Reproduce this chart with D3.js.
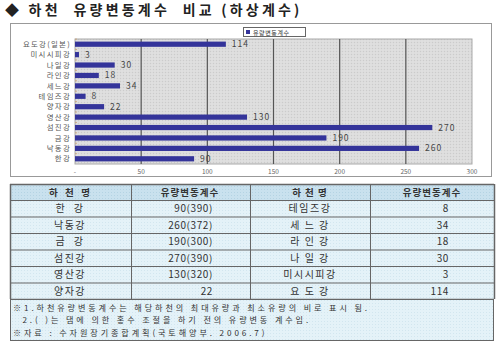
<!DOCTYPE html>
<html><head><meta charset="utf-8">
<script src="https://cdn.jsdelivr.net/npm/d3@7"></script>
<style>
html,body{margin:0;padding:0;background:#fff;}
svg{display:block;font-family:"Noto Sans CJK KR","Noto Sans",sans-serif;}
</style></head>
<body>
<svg id="c" width="500" height="343"></svg>
<script>
const titleText = "◆ 하천  유량변동계수  비교 (하상계수)";
const categories = ["요도강(일본)","미시시피강","나일강","라인강","세느강","테임즈강","양자강","영산강","섬진강","금강","낙동강","한강"];
const values = [114,3,30,18,34,8,22,130,270,190,260,90];
const xTicks = [0,50,100,150,200,250,300];
const xTickLabels = ["-","50","100","150","200","250","300"];
const legendLabel = "유량변동계수";

const tableHeaders = ["하  천  명","유량변동계수","하 천 명","유량변동계수"];
const namesLeft = ["한  강","낙동강","금  강","섬진강","영산강","양자강"];
const valuesLeft = ["90(390)","260(372)","190(300)","270(390)","130(320)","22"];
const namesRight = ["테임즈강","세 느 강","라 인 강","나 일 강","미시시피강","요 도 강"];
const valuesRight = ["8","34","18","30","3","114"];
const notes = ["※1.하천유량변동계수는 해당하천의 최대유량과 최소유량의 비로 표시 됨.",
               "  2.( )는 댐에 의한 홍수 조절을 하기 전의 유량변동 계수임.",
               "※자료 : 수자원장기종합계획(국토해양부. 2006.7)"];

const svg = d3.select("#c");
const defs = svg.append("defs");
const pat = defs.append("pattern").attr("id","hatch").attr("width",3).attr("height",3).attr("patternUnits","userSpaceOnUse");
pat.append("rect").attr("width",3).attr("height",3).attr("fill","#dcdcdc");
pat.append("rect").attr("x",0).attr("y",0).attr("width",1).attr("height",1).attr("fill","#cbcbcb");
pat.append("rect").attr("x",1.5).attr("y",1.5).attr("width",1).attr("height",1).attr("fill","#e8e8e8");
const pat2 = defs.append("pattern").attr("id","dots").attr("width",3).attr("height",3).attr("patternUnits","userSpaceOnUse");
pat2.append("rect").attr("width",3).attr("height",3).attr("fill","#e4f2f8");
pat2.append("rect").attr("width",1).attr("height",1).attr("fill","#d2e6ef");
const pat3 = defs.append("pattern").attr("id","hdots").attr("width",3).attr("height",3).attr("patternUnits","userSpaceOnUse");
pat3.append("rect").attr("width",3).attr("height",3).attr("fill","#c9e1ee");
pat3.append("rect").attr("width",1).attr("height",1).attr("fill","#b4d3e3");

// Title
svg.append("text").attr("x",5).attr("y",15).attr("font-size",14).attr("font-weight","bold").attr("fill","#222")
  .attr("letter-spacing",3.2).attr("xml:space","preserve").text(titleText);

// Chart box
svg.append("rect").attr("x",10.5).attr("y",23.5).attr("width",481).attr("height",153).attr("fill","#fff").attr("stroke","#999");

const x = d3.scaleLinear().domain([0,300]).range([75,472]);
const y = d3.scaleBand().domain(categories).range([39,164]).paddingInner(0.5).paddingOuter(0.25);

svg.append("rect").attr("x",x(0)).attr("y",39).attr("width",x(300)-x(0)).attr("height",125).attr("fill","url(#hatch)").attr("stroke","#aaa");

svg.append("g").selectAll("line").data(xTicks.slice(1,-1)).join("line")
  .attr("x1",d=>x(d)).attr("x2",d=>x(d)).attr("y1",39).attr("y2",164)
  .attr("stroke","#555").attr("stroke-width",1.2);

svg.append("g").selectAll("text").data(xTicks).join("text")
  .attr("x",d=>x(d)).attr("y",174).attr("text-anchor","middle").attr("font-size",6.5).attr("fill","#666")
  .text((d,i)=>xTickLabels[i]);

svg.append("g").selectAll("line").data(categories).join("line")
  .attr("x1",x(0)).attr("x2",x(0)+2).attr("y1",d=>y(d)-2.5).attr("y2",d=>y(d)-2.5)
  .attr("stroke","#c9a070").attr("stroke-width",0.8);

svg.append("g").selectAll("rect").data(values).join("rect")
  .attr("x",x(0)).attr("y",(d,i)=>y(categories[i])).attr("width",d=>x(d)-x(0)).attr("height",y.bandwidth())
  .attr("fill","#34349a");

svg.append("g").selectAll("text").data(values).join("text")
  .attr("x",d=>x(d)+6).attr("y",(d,i)=>y(categories[i])+y.bandwidth()/2+3)
  .attr("font-size",8.5).attr("fill","#444").attr("letter-spacing",1).text(d=>d);

svg.append("g").selectAll("text").data(categories).join("text")
  .attr("x",71).attr("y",d=>y(d)+y.bandwidth()/2+2.7).attr("text-anchor","end")
  .attr("font-size",7.4).attr("letter-spacing",1.3).attr("fill","#555").text(d=>d);

const lg = svg.append("g");
lg.append("rect").attr("x",243.5).attr("y",27.5).attr("width",62).attr("height",9).attr("fill","#fff").attr("stroke","#666");
lg.append("rect").attr("x",246).attr("y",30).attr("width",4).attr("height",4).attr("fill","#34349a");
lg.append("text").attr("x",253).attr("y",35).attr("font-size",6).attr("letter-spacing",0.6).attr("fill","#333").text(legendLabel);

// Table
const colX = [10,131,250,370,494];
const tTop = 184, hH = 16, rH = 16.5;
const nRows = namesLeft.length;
const tBottom = tTop + hH + rH*nRows;
svg.append("rect").attr("x",colX[0]).attr("y",tTop).attr("width",colX[4]-colX[0]).attr("height",hH).attr("fill","url(#hdots)");
svg.append("rect").attr("x",colX[0]).attr("y",tTop+hH).attr("width",colX[4]-colX[0]).attr("height",rH*nRows).attr("fill","url(#dots)");
const hl = [tTop, tTop+hH];
for (let i=1;i<=nRows;i++) hl.push(tTop+hH+rH*i);
svg.append("g").selectAll("line").data(hl).join("line")
  .attr("x1",colX[0]).attr("x2",colX[4]).attr("y1",d=>d+0.5).attr("y2",d=>d+0.5)
  .attr("stroke","#666").attr("stroke-width",(d,i)=> (i===0||i===hl.length-1)?1.5:1);
svg.append("g").selectAll("line").data(colX).join("line")
  .attr("x1",d=>d+0.5).attr("x2",d=>d+0.5).attr("y1",tTop).attr("y2",tBottom)
  .attr("stroke","#666").attr("stroke-width",(d,i)=>(i===0||i===4)?1.5:1);

const hCenters = [70,190,310,432];
svg.append("g").selectAll("text").data(tableHeaders).join("text")
  .attr("x",(d,i)=>hCenters[i]).attr("y",tTop+12).attr("text-anchor","middle")
  .attr("font-size",9.5).attr("font-weight","bold").attr("letter-spacing",1).attr("fill","#333").attr("xml:space","preserve").text(d=>d);

const rowY = i => tTop+hH+rH*i+12.2;
const tg = svg.append("g").attr("font-size",10).attr("fill","#333");
tg.selectAll(".nl").data(namesLeft).join("text").attr("class","nl")
  .attr("x",70).attr("y",(d,i)=>rowY(i)).attr("text-anchor","middle").attr("letter-spacing",1.5).attr("xml:space","preserve").text(d=>d);
tg.selectAll(".vl").data(valuesLeft).join("text").attr("class","vl")
  .attr("x",213).attr("y",(d,i)=>rowY(i)).attr("text-anchor","end").attr("letter-spacing",0.6).text(d=>d);
tg.selectAll(".nr").data(namesRight).join("text").attr("class","nr")
  .attr("x",310).attr("y",(d,i)=>rowY(i)).attr("text-anchor","middle").attr("letter-spacing",1.5).attr("xml:space","preserve").text(d=>d);
tg.selectAll(".vr").data(valuesRight).join("text").attr("class","vr")
  .attr("x",449).attr("y",(d,i)=>rowY(i)).attr("text-anchor","end").attr("letter-spacing",0.6).text(d=>d);

svg.append("rect").attr("x",10.5).attr("y",tBottom+0.5).attr("width",483).attr("height",340-tBottom).attr("fill","url(#dots)").attr("stroke","#666");
svg.append("g").selectAll("text").data(notes).join("text")
  .attr("x",13).attr("y",(d,i)=>tBottom+12+i*12.3).attr("font-size",8.1).attr("letter-spacing",2.9).attr("fill","#333").attr("xml:space","preserve").text(d=>d);
</script>
</body></html>
